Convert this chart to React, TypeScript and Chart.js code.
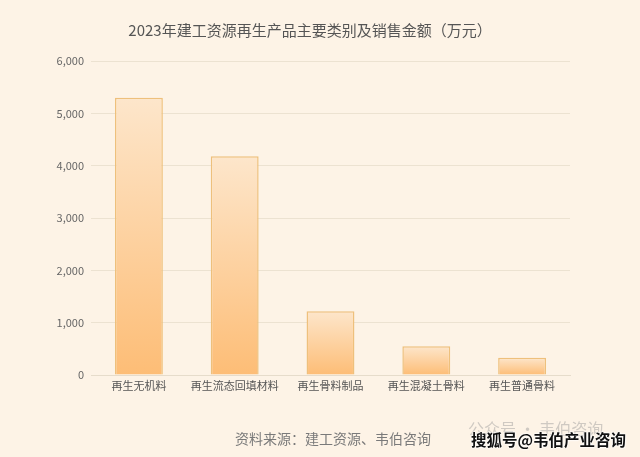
import React, { useEffect, useRef } from "react";
import { Chart, registerables } from "chart.js";

Chart.register(...registerables);

const categories = ["再生无机料", "再生流态回填材料", "再生骨料制品", "再生混凝土骨料", "再生普通骨料"];
const salesValues = [5300, 4180, 1220, 550, 330];
const yTickValues = [0, 1000, 2000, 3000, 4000, 5000, 6000];
const titleText = "2023年建工资源再生产品主要类别及销售金额（万元）";
const sourceText = "资料来源：建工资源、韦伯咨询";

const FONT = '"Noto Sans CJK SC", "Noto Sans", sans-serif';

export default function App() {
  const ref = useRef<HTMLCanvasElement | null>(null);

  useEffect(() => {
    if (!ref.current) return;
    const chart = new Chart(ref.current, {
      type: "bar",
      data: {
        labels: categories,
        datasets: [
          {
            data: salesValues,
            backgroundColor: (ctx: any) => {
              const c = ctx.chart;
              const area = c.chartArea;
              if (!area || !c.scales || !c.scales.y) return "#fdcf98";
              const y = c.scales.y;
              const top = y.getPixelForValue(ctx.raw ?? 0);
              const base = y.getPixelForValue(0);
              if (!isFinite(top) || !isFinite(base) || top === base) return "#fdcf98";
              const g = c.ctx.createLinearGradient(0, top, 0, base);
              g.addColorStop(0, "#fde6cb");
              g.addColorStop(1, "#fdbd76");
              return g;
            },
            borderColor: "#eec07c",
            borderWidth: 1.5,
            borderSkipped: "bottom",
            barPercentage: 0.5,
            categoryPercentage: 1,
          },
        ],
      },
      options: {
        animation: false,
        responsive: false,
        maintainAspectRatio: false,
        layout: { padding: { top: 61, right: 70, bottom: 52, left: 0 } },
        plugins: {
          legend: { display: false },
          tooltip: { enabled: false },
          title: { display: false },
        },
        scales: {
          x: {
            grid: { display: false, drawTicks: false },
            border: { display: true, color: "#e6dccb" },
            ticks: {
              color: "#555",
              font: { family: FONT, size: 11 },
              padding: 4,
              maxRotation: 0,
              autoSkip: false,
            },
            afterFit: (s: any) => {
              s.height = 30;
            },
          },
          y: {
            min: 0,
            max: 6000,
            afterBuildTicks: (s: any) => {
              s.ticks = yTickValues.map((v) => ({ value: v }));
            },
            grid: { color: "#ece2d1", drawTicks: false, lineWidth: 1 },
            border: { display: false },
            ticks: {
              color: "#666",
              font: { family: FONT, size: 11 },
              padding: 7,
              callback: (v: any) => Number(v).toLocaleString("en-US"),
            },
            afterFit: (s: any) => {
              s.width = 91;
            },
          },
        },
      },
    });
    return () => chart.destroy();
  }, []);

  return (
    <div
      style={{
        position: "fixed",
        left: 0,
        top: 0,
        width: 640,
        height: 457,
        background: "#fdf3e6",
        overflow: "hidden",
      }}
    >
      <canvas ref={ref} width={640} height={457} style={{ position: "absolute", left: 0, top: 0, width: 640, height: 457 }} />
      <div
        style={{
          position: "absolute",
          left: 0,
          width: 620,
          top: 20,
          textAlign: "center",
          fontFamily: FONT,
          fontSize: 15,
          color: "#555",
          lineHeight: "20px",
          whiteSpace: "nowrap",
        }}
      >
        {titleText}
      </div>
      <div
        style={{
          position: "absolute",
          left: 235,
          top: 428,
          fontFamily: FONT,
          fontSize: 14,
          color: "#7a7a7a",
          lineHeight: "20px",
          whiteSpace: "nowrap",
        }}
      >
        {sourceText}
      </div>
      <div
        style={{
          position: "absolute",
          left: 468,
          top: 418,
          fontFamily: FONT,
          fontSize: 16,
          color: "rgba(150,150,150,0.45)",
          lineHeight: "20px",
          whiteSpace: "nowrap",
        }}
      >
        公众号 · 韦伯咨询
      </div>
      <div
        style={{
          position: "absolute",
          left: 471,
          top: 429,
          fontFamily: FONT,
          fontSize: 15.5,
          fontWeight: 700,
          color: "#111",
          lineHeight: "20px",
          whiteSpace: "nowrap",
          textShadow: "0 0 2px #fff, 0 0 2px #fff, 0 0 2px #fff",
        }}
      >
        搜狐号@韦伯产业咨询
      </div>
    </div>
  );
}
